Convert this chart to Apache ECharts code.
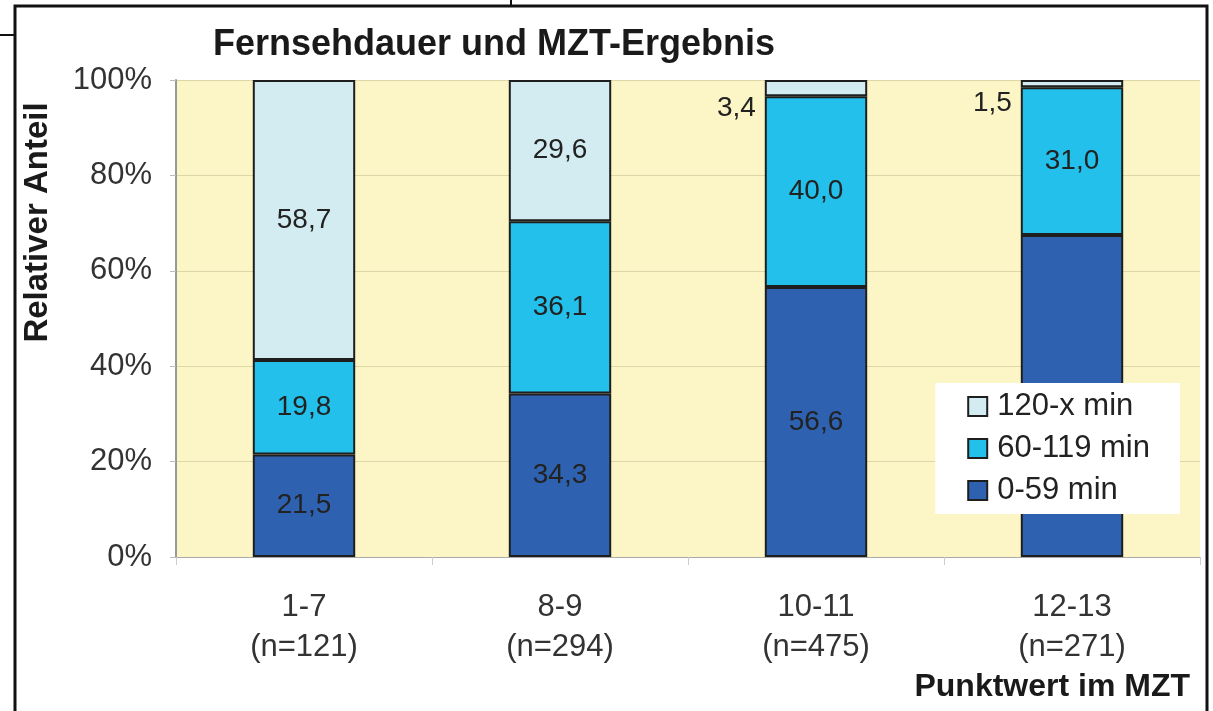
<!DOCTYPE html>
<html>
<head>
<meta charset="utf-8">
<script src="https://cdn.jsdelivr.net/npm/echarts@6/dist/echarts.min.js"></script>
<style>
  html, body { margin: 0; padding: 0; background: #fff; }
  #chart { width: 1213px; height: 711px; }
</style>
</head>
<body>
<div id="chart"></div>
<script>
var categories = ['1-7', '8-9', '10-11', '12-13']
var sampleSizes = ['121', '294', '475', '271']
var seriesNames = ['0-59 min', '60-119 min', '120-x min']
var low = [21.5, 34.3, 56.6, 67.5]
var mid = [19.8, 36.1, 40.0, 31.0]
var high = [58.7, 29.6, 3.4, 1.5]
var yTicks = [0, 20, 40, 60, 80, 100]

var colors = ['#2E62B1', '#22C0EA', '#D2ECF1']
var font = 'Liberation Sans, Arial, sans-serif'

var myChart = echarts.init(document.getElementById('chart'))

function fmt(v) {
  return v.toFixed(1).replace('.', ',')
}

// small top segments get their label outside, left of the bar
function makeData(values) {
  return values.map(function (v) {
    if (v < 5) {
      return { value: v, label: { position: 'left', offset: [-4, 20] } }
    }
    return v
  })
}

var allValues = [low, mid, high]
var series = seriesNames.map(function (name, i) {
  return {
    name: name,
    type: 'bar',
    stack: 'total',
    barWidth: '40%',
    data: makeData(allValues[i]),
    itemStyle: {
      color: colors[i],
      borderColor: '#1e1e1e',
      borderWidth: 2
    },
    label: {
      show: true,
      position: 'inside',
      color: '#222',
      fontFamily: font,
      fontSize: 28,
      formatter: function (p) { return fmt(p.value) }
    }
  }
})

var option = {
  animation: false,
  textStyle: { fontFamily: font },
  title: {
    text: 'Fernsehdauer und MZT-Ergebnis',
    left: 208,
    top: 22,
    textStyle: { fontSize: 36, fontWeight: 'bold', color: '#1a1a1a', fontFamily: font }
  },
  legend: {
    data: seriesNames.slice().reverse(),
    orient: 'vertical',
    right: 33,
    top: 383,
    backgroundColor: '#fff',
    padding: [8, 30, 8, 32],
    itemGap: 11,
    itemWidth: 19,
    itemHeight: 19,
    icon: 'rect',
    textStyle: { fontSize: 31, color: '#222', fontFamily: font, padding: [0, 0, 0, 5] }
  },
  grid: {
    left: 176,
    right: 13,
    top: 80,
    bottom: 154,
    show: true,
    backgroundColor: '#FCF5C5',
    borderWidth: 0
  },
  xAxis: {
    type: 'category',
    data: categories,
    name: 'Punktwert im MZT',
    nameLocation: 'end',
    nameGap: -10,
    nameTextStyle: {
      fontSize: 32, fontWeight: 'bold', color: '#1a1a1a', fontFamily: font,
      align: 'right', verticalAlign: 'top', padding: [114, 0, 0, 0]
    },
    axisLine: { lineStyle: { color: '#aaa', width: 1 } },
    axisTick: { show: true, length: 8, lineStyle: { color: '#ccc' } },
    axisLabel: {
      margin: 30,
      lineHeight: 40,
      fontSize: 31,
      color: '#333',
      formatter: function (v, i) { return v + '\n(n=' + sampleSizes[i] + ')' }
    }
  },
  yAxis: {
    type: 'value',
    min: 0,
    max: 100,
    interval: 20,
    name: 'Relativer Anteil',
    nameLocation: 'middle',
    nameGap: 122,
    nameTextStyle: {
      fontSize: 33, fontWeight: 'bold', color: '#1a1a1a', fontFamily: font,
      padding: [0, 0, 0, 192]
    },
    axisLine: { show: true, lineStyle: { color: '#999', width: 2 } },
    axisTick: { show: true, length: 6, lineStyle: { color: '#bbb' } },
    axisLabel: {
      margin: 24,
      fontSize: 31,
      color: '#333',
      formatter: function (v) { return yTicks.indexOf(v) >= 0 ? v + '%' : '' }
    },
    splitLine: { lineStyle: { color: '#DDD6A8', width: 1 } }
  },
  graphic: [
    {
      type: 'rect',
      shape: { x: 15, y: 6, width: 1192, height: 740 },
      style: { fill: 'none', stroke: '#111', lineWidth: 3 },
      z: 100
    },
    {
      type: 'line',
      shape: { x1: 0, y1: 35, x2: 15, y2: 35 },
      style: { stroke: '#111', lineWidth: 2 }
    },
    {
      type: 'line',
      shape: { x1: 511, y1: 0, x2: 511, y2: 7 },
      style: { stroke: '#111', lineWidth: 2 }
    }
  ],
  series: series
}

myChart.setOption(option)
</script>
</body>
</html>
